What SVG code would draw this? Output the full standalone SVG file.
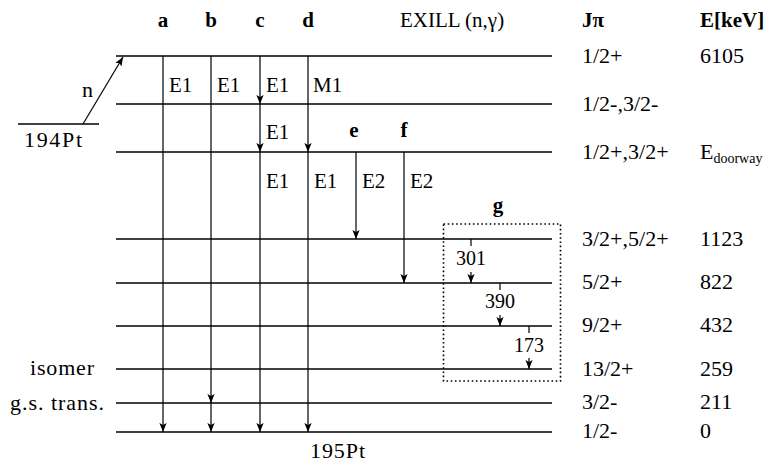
<svg xmlns="http://www.w3.org/2000/svg" width="778" height="463" viewBox="0 0 778 463" font-family="'Liberation Serif', 'Times New Roman', serif">
<style>
text{font-family:'Liberation Serif','Times New Roman',serif;font-size:21px;fill:#000}
.b{font-weight:bold}
.m{text-anchor:middle}
.e{text-anchor:end}
.r{font-size:22px}
.s{font-size:20px}
.lv{stroke:#000;stroke-width:1.3;fill:none}
.tr{stroke:#000;stroke-width:1.2;fill:none}
.ar{stroke:#000;stroke-width:1.2;fill:none;marker-end:url(#ah)}
.box{stroke:#000;stroke-width:1.6;fill:none;stroke-dasharray:1.6 2.6}
</style>
<defs>
<marker id="ah" markerUnits="userSpaceOnUse" markerWidth="12" markerHeight="10" viewBox="-10 -5 11 10" refX="0" refY="0" orient="auto">
<path d="M0,0 L-9,-3.6 L-7,0 L-9,3.6 z" fill="#000"/>
</marker>
</defs>
<g id="headers">
<text class="b m" x="163" y="27">a</text>
<text class="b m" x="211" y="27">b</text>
<text class="b m" x="260" y="27">c</text>
<text class="b m" x="308" y="27">d</text>
<text x="400" y="27">EXILL (n,γ)</text>
<text class="b" x="582" y="27">Jπ</text>
<text class="b" x="700" y="27">E[keV]</text>
</g>
<g id="levels">
<line class="lv" x1="116" y1="56" x2="552" y2="56"/>
<line class="lv" x1="116" y1="104" x2="552" y2="104"/>
<line class="lv" x1="116" y1="152" x2="552" y2="152"/>
<line class="lv" x1="116" y1="239" x2="552" y2="239"/>
<line class="lv" x1="116" y1="283" x2="552" y2="283"/>
<line class="lv" x1="116" y1="326" x2="552" y2="326"/>
<line class="lv" x1="116" y1="369" x2="552" y2="369"/>
<line class="lv" x1="116" y1="403" x2="552" y2="403"/>
<line class="lv" x1="116" y1="432" x2="552" y2="432"/>
</g>
<g id="target">
<line class="lv" x1="18" y1="124" x2="99" y2="124"/>
<text class="r" x="24" y="147" textLength="58">194Pt</text>
<text class="r" x="82" y="97">n</text>
</g>
<g id="connectors">
<line class="ar" x1="83" y1="124" x2="123" y2="57"/>
<line class="ar" x1="163" y1="56" x2="163" y2="432"/>
<line class="ar" x1="211" y1="56" x2="211" y2="403"/>
<line class="ar" x1="211" y1="403" x2="211" y2="432"/>
<line class="ar" x1="260" y1="56" x2="260" y2="104"/>
<line class="ar" x1="260" y1="104" x2="260" y2="152"/>
<line class="ar" x1="260" y1="152" x2="260" y2="432"/>
<line class="ar" x1="308" y1="56" x2="308" y2="152"/>
<line class="ar" x1="308" y1="152" x2="308" y2="432"/>
<line class="ar" x1="356" y1="152" x2="356" y2="239"/>
<line class="ar" x1="404" y1="152" x2="404" y2="283"/>
<line class="tr" x1="471" y1="239" x2="471" y2="246"/>
<line class="ar" x1="471" y1="272" x2="471" y2="283"/>
<line class="tr" x1="500" y1="283" x2="500" y2="290"/>
<line class="ar" x1="500" y1="315" x2="500" y2="326"/>
<line class="tr" x1="529" y1="326" x2="529" y2="333"/>
<line class="ar" x1="529" y1="358" x2="529" y2="369"/>
</g>
<g id="multipolarities">
<text x="169" y="92">E1</text>
<text x="217" y="92">E1</text>
<text x="266" y="92">E1</text>
<text x="313" y="92">M1</text>
<text x="266" y="139">E1</text>
<text x="266" y="188">E1</text>
<text x="314" y="188">E1</text>
<text x="362" y="188">E2</text>
<text x="410" y="188">E2</text>
<text class="b m" x="354" y="137">e</text>
<text class="b m" x="404" y="137">f</text>
</g>
<g id="group-g">
<rect class="box" x="443.5" y="224" width="117" height="157"/>
<text class="b m" x="498" y="212">g</text>
<text class="s" x="456" y="265">301</text>
<text class="s" x="485" y="308">390</text>
<text class="s" x="514" y="352">173</text>
</g>
<g id="spins">
<text class="r" x="582" y="63">1/2+</text>
<text class="r" x="582" y="111">1/2-,3/2-</text>
<text class="r" x="582" y="159">1/2+,3/2+</text>
<text class="r" x="582" y="246">3/2+,5/2+</text>
<text class="r" x="582" y="289">5/2+</text>
<text class="r" x="582" y="332">9/2+</text>
<text class="r" x="582" y="376">13/2+</text>
<text class="r" x="582" y="409">3/2-</text>
<text class="r" x="582" y="438">1/2-</text>
</g>
<g id="energies">
<text class="r" x="700" y="63">6105</text>
<text class="r" x="700" y="159">E<tspan font-size="14" dy="4">doorway</tspan></text>
<text class="r" x="700" y="246">1123</text>
<text class="r" x="700" y="289">822</text>
<text class="r" x="700" y="332">432</text>
<text class="r" x="700" y="376">259</text>
<text class="r" x="700" y="409">211</text>
<text class="r" x="700" y="438">0</text>
</g>
<g id="side-labels">
<text class="r" x="30" y="375" textLength="64">isomer</text>
<text class="r" x="10" y="410" textLength="94">g.s. trans.</text>
<text class="r" x="310" y="458" textLength="55">195Pt</text>
</g>
</svg>
